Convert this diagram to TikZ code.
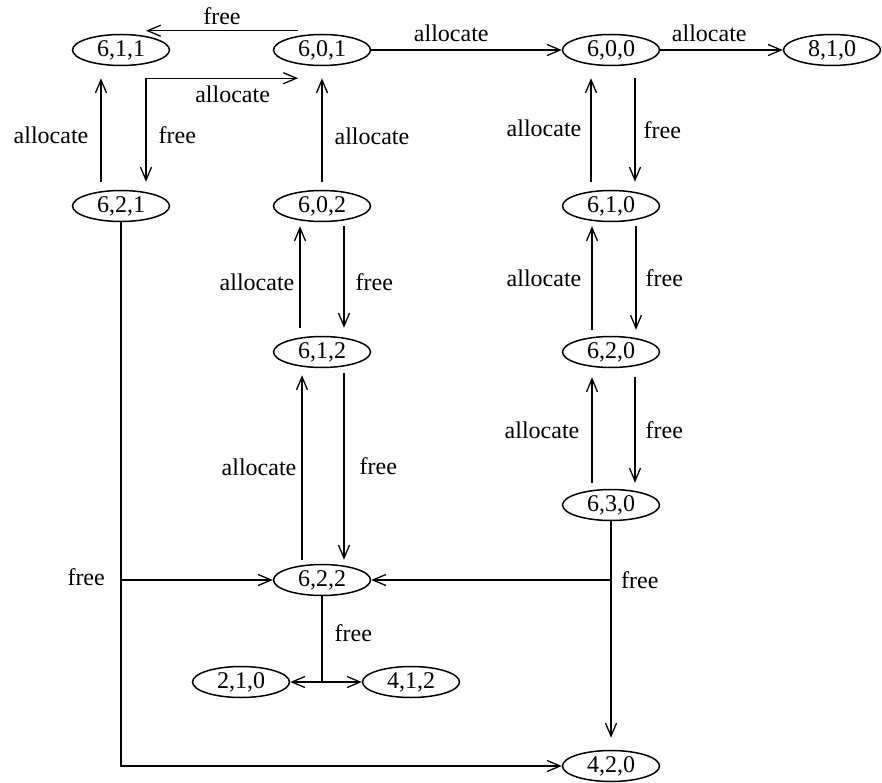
\documentclass[tikz,border=0pt]{standalone}
\usepackage{fontspec}
\setmainfont{Liberation Serif}
\usetikzlibrary{shapes.geometric,arrows.meta}
\begin{document}
\begin{tikzpicture}[x=1pt,y=-1pt,
  state/.style={ellipse, draw, line width=1.5pt, minimum width=97pt,
    minimum height=31pt, inner sep=0pt, font=\fontsize{24}{28}\selectfont},
  wire/.style={line width=1.3pt},
  arr/.style={wire, -{Straight Barb[length=13pt,width=11pt]}},
  lbl/.style={font=\fontsize{24}{28}\selectfont, inner sep=0pt}]
\useasboundingbox (0,0) rectangle (882,783);

% states
\node[state] (s611) at (121,50)  {6,1,1};
\node[state] (s601) at (322,50)  {6,0,1};
\node[state] (s600) at (611,50)  {6,0,0};
\node[state] (s810) at (832,50)  {8,1,0};
\node[state] (s621) at (121,206) {6,2,1};
\node[state] (s602) at (322,206) {6,0,2};
\node[state] (s610) at (611,206) {6,1,0};
\node[state] (s612) at (322,352) {6,1,2};
\node[state] (s620) at (611,352) {6,2,0};
\node[state] (s630) at (611,505) {6,3,0};
\node[state] (s622) at (322,580) {6,2,2};
\node[state] (s210) at (241,682) {2,1,0};
\node[state] (s412) at (411,682) {4,1,2};
\node[state] (s420) at (611,766) {4,2,0};

% top row
\draw[arr] ([shift={(-24pt,3pt)}]s601.north) -- ([shift={(25pt,3pt)}]s611.north)
  node[lbl, pos=0.5, above=5pt] {free};
\draw[arr] (s601.east) -- (s600.west) node[lbl, pos=0.42, above=8pt] {allocate};
\draw[arr] (s600.east) -- (s810.west) node[lbl, pos=0.4, above=8pt] {allocate};

% left column
\coordinate (j611) at ([shift={(25pt,-12pt)}]s611.south);
\coordinate (t601) at ([shift={(-24pt,-12pt)}]s601.south);
\draw[arr] (j611) -- (t601) node[lbl, pos=0.57, below=7pt] {allocate};
\draw[arr] (j611) -- ([shift={(25pt,8pt)}]s621.north)
  node[lbl, pos=0.55, right=12pt] {free};
\draw[arr] ([shift={(-20pt,8pt)}]s621.north) -- ([shift={(-20pt,-12pt)}]s611.south)
  node[lbl, pos=0.45, left=12pt] {allocate};

% middle column
\draw[arr] ([yshift=8pt]s602.north) -- ([yshift=-12pt]s601.south)
  node[lbl, pos=0.44, right=12pt] {allocate};
\draw[arr] ([shift={(-22pt,8pt)}]s612.north) -- ([shift={(-22pt,-4pt)}]s602.south)
  node[lbl, pos=0.45, left=5pt] {allocate};
\draw[arr] ([shift={(22pt,-4pt)}]s602.south) -- ([shift={(22pt,8pt)}]s612.north)
  node[lbl, pos=0.55, right=11pt] {free};
\draw[arr] ([shift={(-20pt,4pt)}]s622.north) -- ([shift={(-20pt,-7pt)}]s612.south)
  node[lbl, midway, left=5pt] {allocate};
\draw[arr] ([shift={(22pt,-5pt)}]s612.south) -- ([shift={(22pt,4pt)}]s622.north)
  node[lbl, midway, right=15pt] {free};

% right column
\draw[arr] ([shift={(-20pt,8pt)}]s610.north) -- ([shift={(-20pt,-12pt)}]s600.south)
  node[lbl, pos=0.52, left=9pt] {allocate};
\draw[arr] ([shift={(24pt,-12pt)}]s600.south) -- ([shift={(24pt,8pt)}]s610.north)
  node[lbl, pos=0.5, right=8pt] {free};
\draw[arr] ([shift={(-19pt,6pt)}]s620.north) -- ([shift={(-19pt,-4pt)}]s610.south)
  node[lbl, midway, left=10pt] {allocate};
\draw[arr] ([shift={(25pt,-4pt)}]s610.south) -- ([shift={(25pt,6pt)}]s620.north)
  node[lbl, midway, right=9pt] {free};
\draw[arr] ([shift={(-19pt,6pt)}]s630.north) -- ([shift={(-19pt,-9pt)}]s620.south)
  node[lbl, midway, left=12pt] {allocate};
\draw[arr] ([shift={(24pt,-9pt)}]s620.south) -- ([shift={(24pt,6pt)}]s630.north)
  node[lbl, midway, right=10pt] {free};

% free from 6,3,0 to 6,2,2 and 4,2,0
\coordinate (j630) at (s630.south |- s622.east);
\draw[arr] (s630.south) -- ([yshift=12pt]s420.north);
\draw[arr] (j630) -- (s622.east);
\node[lbl, right=10pt] at (j630) {free};

% free from 6,2,1 to 6,2,2 and 4,2,0
\coordinate (j621) at (s621.south |- s622.west);
\draw[arr] (s621.south) |- (s420.west);
\draw[arr] (j621) -- (s622.west);
\node[lbl, left=16pt] at ([yshift=3pt]j621) {free};

% free from 6,2,2 to 2,1,0 and 4,1,2
\coordinate (j622) at (s622.south |- s210.east);
\draw[wire] (s622.south) -- (j622) node[lbl, pos=0.43, right=12pt] {free};
\draw[arr] (j622) -- (s210.east);
\draw[arr] (j622) -- (s412.west);
\end{tikzpicture}
\end{document}
